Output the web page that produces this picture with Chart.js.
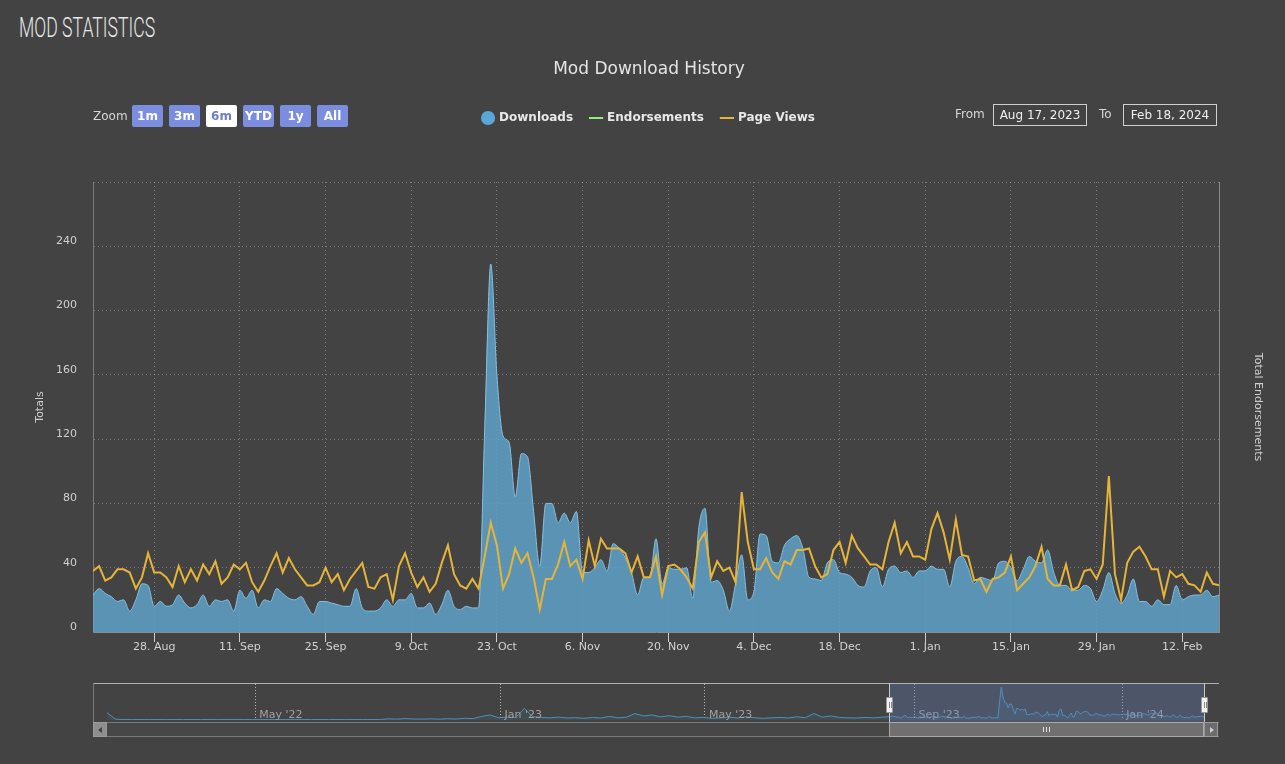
<!DOCTYPE html>
<html>
<head>
<meta charset="utf-8">
<title>Mod Statistics</title>
<script src="https://cdn.jsdelivr.net/npm/chart.js@4.4.1/dist/chart.umd.min.js"></script>
<style>
  html, body { margin: 0; padding: 0; background: #434343; }
  body { width: 1285px; height: 764px; position: relative; overflow: hidden; font-family: "DejaVu Sans", Verdana, sans-serif; color: #ddd; }
  h1 { position: absolute; left: 19px; top: 14px; margin: 0; font-family: Roboto, sans-serif; font-weight: 300; font-size: 28px; line-height: 28px; color: #e8e8e8; transform: scaleX(0.63); transform-origin: left top; white-space: nowrap; }
  #main { position: absolute; left: 0; top: 0; width: 1285px; height: 660px; }
  .range { position: absolute; left: 93px; top: 105px; height: 22px; display: flex; align-items: center; }
  .range span { font-size: 12px; color: #d6d6d6; width: 39px; }
  .range button { width: 31px; height: 22px; margin: 0 6px 0 0; padding: 0; border: 0; border-radius: 2px; background: #7b8ddf; color: #fff; font: bold 12px "DejaVu Sans", sans-serif; }
  .range button.on { background: #fff; color: #6f7fc4; }
  .lbl { position: absolute; top: 107px; font-size: 12px; color: #d6d6d6; }
  .datebox { position: absolute; top: 104px; width: 94px; height: 22px; box-sizing: border-box; border: 1px solid #cfcfcf; font-size: 12px; color: #eee; text-align: center; line-height: 20px; }
  #navTop { position: absolute; left: 93px; top: 683px; width: 1126px; height: 1px; background: #b0b0b0; }
  #navLeft { position: absolute; left: 93px; top: 683px; width: 1px; height: 54px; background: #7a7a7a; }
  #navWrap { position: absolute; left: 107px; top: 684px; width: 1097px; height: 36px; }
  #mask { position: absolute; left: 889px; top: 684px; width: 315px; height: 38px; background: rgba(102, 133, 194, 0.3); }
  .edge { position: absolute; top: 683px; width: 1px; height: 39px; background: #c8c8c8; }
  #track { position: absolute; left: 93px; top: 722px; width: 1126px; height: 15px; box-sizing: border-box; background: #474747; border-top: 1px solid #7a7a7a; border-bottom: 1px solid #7a7a7a; }
  #thumb { position: absolute; left: 889px; top: 722px; width: 315px; height: 15px; box-sizing: border-box; background: #707070; border: 1px solid #a8a8a8; }
  #thumb i { position: absolute; top: 4px; width: 1px; height: 5px; background: #e0e0e0; }
  .arrow { position: absolute; top: 722px; width: 14px; height: 15px; box-sizing: border-box; border: 1px solid #9a9a9a; }
  .arrow b { position: absolute; top: 4px; width: 0; height: 0; border-top: 3px solid transparent; border-bottom: 3px solid transparent; }
  .handle { position: absolute; top: 697px; width: 7px; height: 16px; box-sizing: border-box; background: #f2f2f2; border: 1px solid #9a9a9a; border-radius: 1px; }
  .handle i { position: absolute; top: 4px; width: 1px; height: 6px; background: #888; }
</style>
</head>
<body>
<h1>MOD STATISTICS</h1>
<div id="main"><canvas id="history"></canvas></div>

<div class="range">
  <span>Zoom</span>
  <button>1m</button><button>3m</button><button class="on">6m</button><button>YTD</button><button>1y</button><button>All</button>
</div>
<div class="lbl" style="left:955px">From</div>
<div class="datebox" style="left:993px">Aug 17, 2023</div>
<div class="lbl" style="left:1099px">To</div>
<div class="datebox" style="left:1123px">Feb 18, 2024</div>

<div id="track"></div>
<div id="navWrap"><canvas id="nav"></canvas></div>
<div id="mask"></div>
<div id="navTop"></div>
<div id="navLeft"></div>
<div class="edge" style="left:889px"></div>
<div class="edge" style="left:1204px"></div>
<div id="thumb"><i style="left:153px"></i><i style="left:156px"></i><i style="left:159px"></i></div>
<div class="arrow" style="left:93px;background:#8e8e8e"><b style="left:4px;border-right:4px solid #444"></b></div>
<div class="arrow" style="left:1204px;background:#6c6c6c"><b style="left:5px;border-left:4px solid #ccc"></b></div>
<div class="handle" style="left:886px"><i style="left:2px"></i><i style="left:4px"></i></div>
<div class="handle" style="left:1201px"><i style="left:2px"></i><i style="left:4px"></i></div>

<script>
// daily values, Aug 18 2023 (day 0) .. Feb 18 2024 (day 184)
const downloads = [
  23, 27, 24, 22, 19, 20, 13, 20, 30, 29,
  16, 19, 16, 17, 23, 18, 15, 17, 23, 16,
  20, 19, 20, 13, 26, 21, 26, 15, 20, 19,
  27, 24, 21, 20, 22, 16, 11, 19, 19, 18,
  17, 16, 16, 27, 15, 13, 13, 15, 20, 16,
  20, 20, 24, 15, 15, 18, 11, 17, 26, 16,
  14, 16, 15, 15, 125, 229, 160, 122, 118, 84,
  111, 109, 75, 41, 80, 80, 68, 74, 68, 75,
  37, 37, 40, 45, 38, 55, 52, 46, 37, 23,
  34, 34, 58, 30, 40, 39, 39, 40, 21, 65,
  77, 31, 32, 26, 13, 30, 48, 20, 25, 61,
  60, 44, 43, 54, 58, 60, 52, 34, 33, 32,
  43, 45, 37, 36, 34, 29, 28, 38, 40, 28,
  39, 41, 37, 38, 34, 38, 38, 41, 39, 39,
  28, 44, 47, 40, 30, 34, 33, 32, 43, 44,
  40, 32, 39, 47, 44, 43, 51, 37, 29, 29,
  26, 26, 29, 27, 19, 26, 37, 24, 18, 23,
  33, 19, 19, 16, 20, 17, 17, 29, 20, 22,
  23, 23, 26, 22, 23
];

const pageViews = [
  38, 41, 32, 34, 39, 39, 37, 27, 34, 49,
  37, 37, 34, 28, 41, 31, 39, 32, 42, 36,
  44, 30, 34, 42, 39, 43, 31, 25, 32, 41,
  49, 37, 46, 39, 34, 29, 29, 31, 40, 31,
  36, 26, 33, 38, 43, 28, 27, 34, 36, 20,
  41, 49, 37, 28, 34, 25, 30, 43, 54, 36,
  29, 27, 33, 27, 47, 68, 54, 27, 36, 52,
  43, 49, 34, 14, 33, 33, 42, 56, 41, 45,
  33, 57, 41, 58, 52, 52, 52, 49, 37, 47,
  34, 34, 47, 23, 41, 42, 39, 34, 27, 56,
  62, 34, 44, 38, 40, 31, 87, 56, 39, 39,
  46, 37, 33, 44, 42, 51, 51, 52, 41, 34,
  36, 51, 56, 43, 60, 52, 47, 42, 42, 39,
  56, 68, 49, 56, 47, 47, 45, 64, 74, 62,
  45, 70, 48, 47, 32, 33, 25, 33, 34, 37,
  47, 26, 30, 34, 41, 53, 33, 29, 29, 42,
  26, 28, 38, 39, 33, 42, 97, 36, 20, 43,
  50, 53, 47, 39, 39, 22, 38, 34, 36, 30,
  29, 25, 37, 30, 29
];

const endorsements = [];

const xTickDays = [10, 24, 38, 52, 66, 80, 94, 108, 122, 136, 150, 164, 178];
const xTickLabels = ["28. Aug", "11. Sep", "25. Sep", "9. Oct", "23. Oct", "6. Nov", "20. Nov",
  "4. Dec", "18. Dec", "1. Jan", "15. Jan", "29. Jan", "12. Feb"];

// navigator: older downloads sampled every 5 ordinal points before day 0
const navStart = -460;
const navStep = 5;
const navHistory = [
  50, 6, 3, 3, 3, 3, 3, 3, 3, 3,
  3, 3, 3, 3, 3, 3, 3, 3, 3, 3,
  3, 3, 3, 3, 3, 3, 3, 3, 3, 3,
  3, 3, 3, 8, 6, 10, 7, 6, 8, 6,
  9, 7, 12, 10, 25, 35, 15, 20, 18, 80,
  22, 18, 15, 20, 14, 16, 12, 18, 14, 25,
  15, 20, 45, 28, 35, 22, 30, 20, 25, 15,
  18, 12, 15, 20, 14, 22, 16, 12, 15, 18,
  14, 22, 16, 45, 20, 28, 18, 15, 14, 18,
  15, 20
];
const navTickPos = [-373, -229, -109, 14, 136];
const navTickLabels = ["May '22", "Jan '23", "May '23", "Sep '23", "Jan '24"];

Chart.defaults.font.family = "'DejaVu Sans', Verdana, sans-serif";
Chart.defaults.color = "#d0d0d0";

const gridColor = "rgba(255,255,255,0.3)";

function daily(values) {
  return values.map((v, i) => ({ x: i, y: v }));
}

function renderHistory() {
  new Chart(document.getElementById("history"), {
    type: "line",
    data: {
      datasets: [
        {
          label: "Downloads",
          data: daily(downloads),
          borderColor: "#86bfe0",
          borderWidth: 1,
          backgroundColor: "rgba(96,168,208,0.8)",
          fill: "origin",
          pointRadius: 0,
          cubicInterpolationMode: "monotone",
          order: 2
        },
        {
          label: "Endorsements",
          data: endorsements,
          borderColor: "#90ee7e",
          borderWidth: 2,
          pointRadius: 0,
          yAxisID: "y1",
          order: 1
        },
        {
          label: "Page Views",
          data: daily(pageViews),
          borderColor: "#e6b438",
          borderWidth: 2,
          pointRadius: 0,
          fill: false,
          tension: 0,
          order: 0
        }
      ]
    },
    options: {
      responsive: true,
      maintainAspectRatio: false,
      animation: false,
      events: [],
      layout: { padding: { top: 59, left: 13, right: 0, bottom: 0 } },
      plugins: {
        title: {
          display: true,
          text: "Mod Download History",
          color: "#e4e4e4",
          font: { size: 17, weight: "normal" },
          padding: { top: 0, bottom: 14.6 }
        },
        subtitle: {
          display: true,
          text: "",
          font: { size: 10 },
          padding: { top: 0, bottom: 36 }
        },
        legend: {
          position: "top",
          weight: 1700,
          labels: {
            usePointStyle: true,
            boxWidth: 10,
            boxHeight: 10,
            padding: 18,
            color: "#e8e8e8",
            font: { size: 12, weight: "bold" },
            sort: (a, b) => a.datasetIndex - b.datasetIndex,
            generateLabels(chart) {
              const items = Chart.defaults.plugins.legend.labels.generateLabels(chart);
              items.forEach((item) => {
                if (item.datasetIndex === 0) {
                  item.pointStyle = "circle";
                  item.fillStyle = "#5aa6d8";
                  item.strokeStyle = "#5aa6d8";
                  item.lineWidth = 0;
                } else {
                  item.pointStyle = "line";
                  item.lineWidth = 2;
                }
              });
              return items;
            }
          }
        },
        tooltip: { enabled: false }
      },
      scales: {
        x: {
          type: "linear",
          min: 0,
          max: 184,
          afterBuildTicks: (scale) => { scale.ticks = xTickDays.map((v) => ({ value: v })); },
          afterFit: (scale) => { scale.height = 28; },
          ticks: {
            autoSkip: false,
            maxRotation: 0,
            padding: -1,
            color: "#d2d2d2",
            font: { size: 11 },
            callback: (value, index) => xTickLabels[index]
          },
          grid: { color: gridColor, tickColor: "#cfcfcf", tickLength: 10, tickBorderDash: [] },
          border: { color: "#8c8c8c", dash: [1, 3] }
        },
        y: {
          position: "left",
          min: 0,
          max: 280,
          afterFit: (scale) => { scale.width = 80; },
          ticks: {
            stepSize: 40,
            padding: 16,
            labelOffset: -5,
            color: "#cfcfcf",
            font: { size: 11 },
            callback: (v) => (v < 280 ? v : "")
          },
          grid: { color: gridColor, drawTicks: false },
          border: { color: "#7a7a7a", dash: [1, 3] },
          title: { display: true, text: "Totals", color: "#cfcfcf", font: { size: 11 }, padding: { top: 21, bottom: 0 } }
        },
        y1: {
          position: "right",
          afterFit: (scale) => { scale.width = 66; },
          ticks: { display: false },
          grid: { display: false, drawTicks: false },
          border: { color: "#8a8a8a" },
          title: { display: true, text: "Total Endorsements", color: "#cfcfcf", font: { size: 11 }, padding: { top: 21, bottom: 0 } }
        }
      }
    }
  });
}

// navigator tick labels sit inside the plot, just right of each grid line
const navLabelPlugin = {
  id: "navLabels",
  afterDraw(chart) {
    const { ctx, chartArea } = chart;
    const xScale = chart.scales.x;
    ctx.save();
    ctx.font = "11px 'DejaVu Sans', sans-serif";
    ctx.fillStyle = "#a0a0a0";
    ctx.textBaseline = "middle";
    ctx.textAlign = "left";
    navTickPos.forEach((v, i) => {
      ctx.fillText(navTickLabels[i], xScale.getPixelForValue(v) + 4, chartArea.bottom - 5);
    });
    ctx.restore();
  }
};

function renderNavigator() {
  const navData = navHistory.map((v, j) => ({ x: navStart + navStep * j, y: v })).concat(daily(downloads));
  new Chart(document.getElementById("nav"), {
    type: "line",
    data: {
      datasets: [{
        data: navData,
        borderColor: "#4d90bd",
        borderWidth: 1,
        backgroundColor: "rgba(77,144,189,0.12)",
        fill: "origin",
        pointRadius: 0,
        tension: 0
      }]
    },
    options: {
      responsive: true,
      maintainAspectRatio: false,
      animation: false,
      events: [],
      layout: { padding: 0 },
      plugins: { legend: { display: false }, tooltip: { enabled: false } },
      scales: {
        x: {
          type: "linear",
          min: navStart,
          max: 184,
          afterBuildTicks: (scale) => { scale.ticks = navTickPos.map((v) => ({ value: v })); },
          afterFit: (scale) => { scale.height = 0; scale.paddingLeft = 0; scale.paddingRight = 0; },
          ticks: { display: false },
          grid: { color: "rgba(255,255,255,0.6)", drawTicks: false },
          border: { display: false, dash: [1, 2] }
        },
        y: { display: false, min: 0, max: 250 }
      }
    },
    plugins: [navLabelPlugin]
  });
}

document.addEventListener("DOMContentLoaded", () => {
  renderHistory();
  renderNavigator();
});
</script>
</body>
</html>
